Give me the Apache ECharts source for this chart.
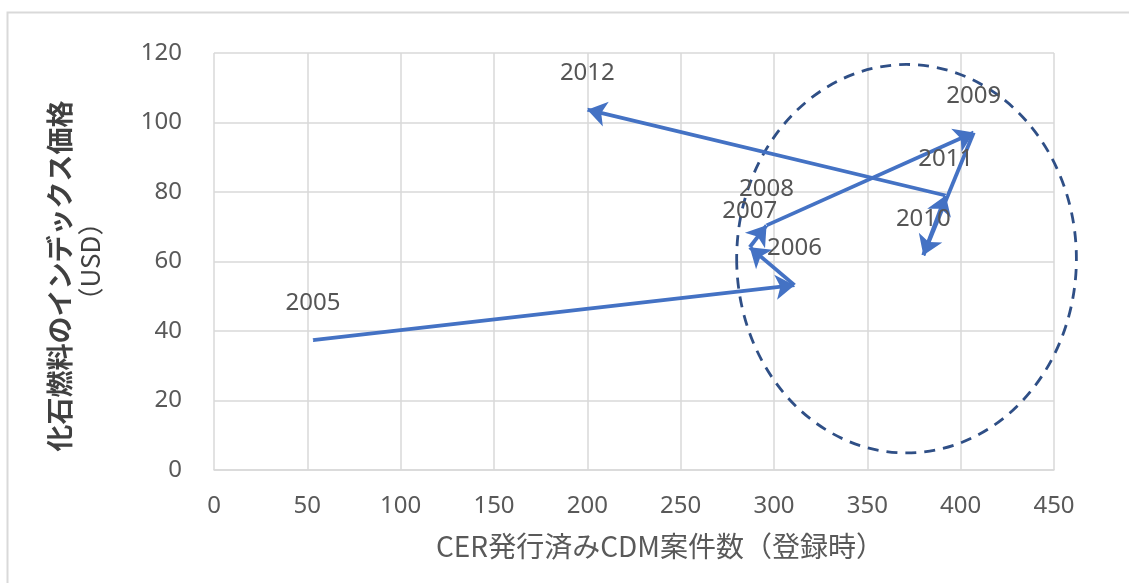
<!DOCTYPE html>
<html>
<head>
<meta charset="utf-8">
<script src="https://cdn.jsdelivr.net/npm/echarts@6/dist/echarts.min.js"></script>
<style>
  html, body { margin: 0; padding: 0; background: #ffffff; }
  #chart { width: 1129px; height: 583px; }
</style>
</head>
<body>
<div id="chart"></div>
<script>
// Registered CDM projects with issued CERs vs. fossil fuel index price, by year
const years = ['2005', '2006', '2007', '2008', '2009', '2010', '2011', '2012'];
const projectCounts = [53, 311, 287, 296, 407, 380, 392, 200];
const indexPrices = [37.4, 53.2, 64.1, 70.4, 97.1, 61.8, 79.0, 103.7];

// Dashed ellipse around the 2006–2011 cluster: [centerX, centerY, radiusX, radiusY] in data units
const clusterEllipse = [371, 60.8, 91, 55.9];

const xTicks = { min: 0, max: 450, interval: 50 };
const yTicks = { min: 0, max: 120, interval: 20 };

const points = years.map((y, i) => [projectCounts[i], indexPrices[i], y]);
const segments = [];
for (let i = 0; i < points.length - 1; i++) {
  segments.push({ coords: [points[i].slice(0, 2), points[i + 1].slice(0, 2)] });
}

const gridColor = '#d9d9d9';
const textColor = '#595959';
const lineBlue = '#4472c4';

const chart = echarts.init(document.getElementById('chart'), null, { renderer: 'canvas' });

chart.setOption({
  backgroundColor: '#ffffff',
  animation: false,
  graphic: [{
    type: 'rect',
    left: 5, top: 10,
    shape: { width: 1200, height: 700 },
    style: { fill: 'none', stroke: gridColor, lineWidth: 2 },
    silent: true
  }],
  grid: { left: 214, right: 75, top: 53, bottom: 113, containLabel: false },
  xAxis: {
    type: 'value',
    min: xTicks.min, max: xTicks.max, interval: xTicks.interval,
    name: 'CER発行済みCDM案件数（登録時）',
    nameLocation: 'middle',
    nameGap: 62,
    nameTextStyle: {
      color: textColor, fontSize: 28, fontFamily: 'Noto Sans CJK JP',
      padding: [0, 0, 0, 52]
    },
    axisLine: { show: true, lineStyle: { color: gridColor, width: 1.5 } },
    axisTick: { show: false },
    axisLabel: { color: textColor, fontSize: 24, fontFamily: 'Noto Sans', margin: 24 },
    splitLine: { show: true, lineStyle: { color: gridColor, width: 1.5 } }
  },
  yAxis: {
    type: 'value',
    min: yTicks.min, max: yTicks.max, interval: yTicks.interval,
    name: '{a|化石燃料のインデックス価格}\n{b|（USD）}',
    nameLocation: 'middle',
    nameRotate: 90,
    nameGap: 108,
    nameTextStyle: {
      rich: {
        a: { fontSize: 27, fontWeight: 'bold', color: '#404040', fontFamily: 'Noto Sans CJK JP',
             lineHeight: 31, padding: [0, 29, 0, 0] },
        b: { fontSize: 26, color: '#404040', fontFamily: 'Noto Sans CJK JP', lineHeight: 31 }
      }
    },
    axisLine: { show: false },
    axisTick: { show: false },
    axisLabel: { color: textColor, fontSize: 24, fontFamily: 'Noto Sans', margin: 32 },
    splitLine: { show: true, lineStyle: { color: gridColor, width: 1.5 } }
  },
  series: [
    {
      // dashed ellipse drawn through the cartesian scales
      type: 'custom',
      coordinateSystem: 'cartesian2d',
      silent: true,
      z: 3,
      data: [clusterEllipse],
      renderItem: function (params, api) {
        const c = api.coord([api.value(0), api.value(1)]);
        const s = api.size([api.value(2), api.value(3)]);
        const rx = s[0], ry = s[1];
        const d = 'M ' + (c[0] - rx) + ' ' + c[1] +
          ' A ' + rx + ' ' + ry + ' 0 1 0 ' + (c[0] + rx) + ' ' + c[1] +
          ' A ' + rx + ' ' + ry + ' 0 1 0 ' + (c[0] - rx) + ' ' + c[1] + ' Z';
        return {
          type: 'path',
          shape: { pathData: d },
          style: { fill: 'none', stroke: '#2f4f86', lineWidth: 2.8, lineDash: [11, 8] }
        };
      }
    },
    {
      // year-to-year arrows
      type: 'lines',
      coordinateSystem: 'cartesian2d',
      silent: true,
      z: 4,
      symbol: ['none', 'arrow'],
      symbolSize: 19,
      lineStyle: { color: lineBlue, width: 3.8, opacity: 1, curveness: 0 },
      data: segments
    },
    {
      // year labels
      type: 'scatter',
      silent: true,
      z: 5,
      symbol: 'circle',
      symbolSize: 1,
      itemStyle: { color: '#ffffff', opacity: 1 },
      label: {
        show: true,
        position: 'top',
        distance: 24,
        formatter: p => p.data[2],
        color: '#555555',
        fontSize: 24,
        lineHeight: 24,
        fontFamily: 'Noto Sans',
        opacity: 1
      },
      labelLayout: { hideOverlap: false },
      data: points
    }
  ]
});
</script>
</body>
</html>
